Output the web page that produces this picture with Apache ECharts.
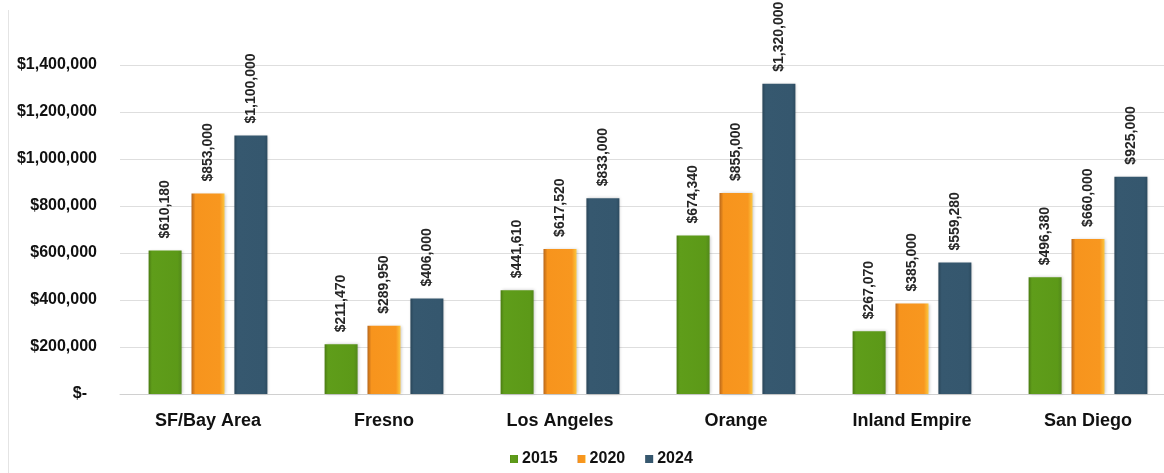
<!DOCTYPE html>
<html>
<head>
<meta charset="utf-8">
<script src="https://cdn.jsdelivr.net/npm/echarts@6/dist/echarts.min.js"></script>
<style>
  html, body { margin: 0; padding: 0; background: #ffffff; overflow: hidden; }
  /* the plot runs a little past the right edge of the window */
  #chart { width: 1176px; height: 473px; }
</style>
</head>
<body>
<div id="chart"></div>
<script>
// Median home prices by California region
const regions = ['SF/Bay Area', 'Fresno', 'Los Angeles', 'Orange', 'Inland Empire', 'San Diego'];
const years = ['2015', '2020', '2024'];
const prices2015 = [610180, 211470, 441610, 674340, 267070, 496380];
const prices2020 = [853000, 289950, 617520, 855000, 385000, 660000];
const prices2024 = [1100000, 406000, 833000, 1320000, 559280, 925000];
const yTicks = [0, 200000, 400000, 600000, 800000, 1000000, 1200000, 1400000];

const money = v => '$' + v.toLocaleString('en-US');
const FONT = '"Liberation Sans", Arial, sans-serif';

function barFill(stops) {
  return {
    type: 'linear', x: 0, y: 0, x2: 1, y2: 0,
    colorStops: stops.map(([o, c]) => ({ offset: o, color: c }))
  };
}

const fills = [
  barFill([[0, '#4a7b12'], [0.1, '#5f9d1a'], [0.88, '#5c9918'], [1, '#52891a']]),
  barFill([[0, '#b9671a'], [0.12, '#f7941d'], [0.86, '#f8971f'], [1, '#fcc63e']]),
  barFill([[0, '#2a4659'], [0.1, '#36586f'], [0.9, '#35576e'], [1, '#2c4b60']])
];

const series = [prices2015, prices2020, prices2024].map((vals, i) => ({
  name: years[i],
  type: 'bar',
  data: vals,
  barWidth: 33,
  barGap: '30%',
  itemStyle: {
    color: fills[i],
    shadowColor: 'rgba(0,0,0,0.22)',
    shadowBlur: 3,
    shadowOffsetX: 1,
    shadowOffsetY: 0
  },
  label: {
    show: true,
    position: 'top',
    rotate: 90,
    align: 'left',
    verticalAlign: 'middle',
    distance: 12,
    formatter: p => money(p.value),
    fontFamily: FONT,
    fontSize: 14,
    fontWeight: 'bold',
    color: '#262626'
  }
}));

const chart = echarts.init(document.getElementById('chart'), null, { renderer: 'canvas' });
chart.setOption({
  backgroundColor: '#ffffff',
  animation: false,
  textStyle: { fontFamily: FONT },
  grid: { left: 120, top: 65, bottom: 79, right: 0, containLabel: false },
  legend: {
    left: 505,
    top: 446,
    icon: 'rect',
    itemWidth: 8,
    itemHeight: 8,
    itemGap: 20,
    data: years.map((y, i) => ({ name: y, itemStyle: { color: fills[i] } })),
    textStyle: { fontFamily: FONT, fontWeight: 'bold', fontSize: 16, color: '#111111', padding: [0, 0, 0, -1] }
  },
  xAxis: {
    type: 'category',
    data: regions,
    axisLine: { show: true, lineStyle: { color: '#d0d0d0', width: 1 } },
    axisTick: { show: false },
    axisLabel: {
      margin: 18,
      fontFamily: FONT,
      fontWeight: 'bold',
      fontSize: 18,
      color: '#111111'
    }
  },
  yAxis: {
    type: 'value',
    min: yTicks[0],
    max: yTicks[yTicks.length - 1],
    interval: yTicks[1] - yTicks[0],
    axisLine: { show: false },
    axisTick: { show: false },
    splitLine: { show: true, lineStyle: { color: '#dedede', width: 1 } },
    axisLabel: {
      margin: 23,
      fontFamily: FONT,
      fontWeight: 'bold',
      fontSize: 16,
      color: '#111111',
      formatter: v => v === 0 ? '{z|$-}' : money(v),
      rich: { z: { fontFamily: FONT, fontWeight: 'bold', fontSize: 16, color: '#111111', padding: [0, 10, 0, 0] } }
    }
  },
  graphic: [{
    type: 'line',
    shape: { x1: 8.5, y1: 10, x2: 8.5, y2: 473 },
    style: { stroke: '#e4e4e4', lineWidth: 1 },
    silent: true
  }],
  series: series
});
</script>
</body>
</html>
